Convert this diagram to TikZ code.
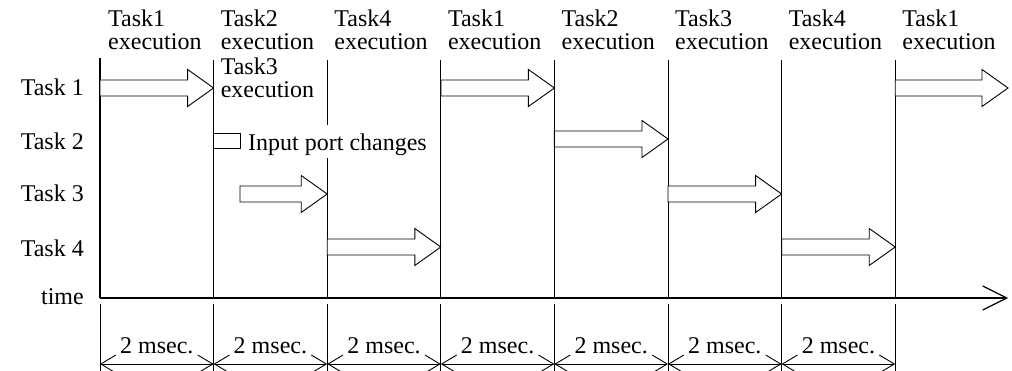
\documentclass[tikz,border=0pt]{standalone}
\usepackage{fontspec}
\setmainfont{Liberation Serif}
\usetikzlibrary{arrows.meta,calc}
\begin{document}
\begin{tikzpicture}[x=1pt,y=-1pt,
  thin line/.style={line width=0.9pt},
  axis line/.style={line width=2.6pt},
  lbl/.style={font=\fontsize{24}{23}\selectfont, inner sep=0pt},
  toplbl/.style={lbl, anchor=north west, align=left},
  rowlbl/.style={lbl, anchor=east},
  dimlbl/.style={lbl, anchor=base},
  dimarrow/.style={thin line, {Straight Barb[length=15pt,width=18pt]}-{Straight Barb[length=15pt,width=18pt]}},
  pics/barrow/.style={code={
    \draw[line width=0.9pt, fill=white] (0,-8) -- ({#1-26},-8) -- ({#1-26},-18.5) -- (#1,0)
      -- ({#1-26},18.5) -- ({#1-26},8) -- (0,8) -- cycle;}}
]
\useasboundingbox (0,0) rectangle (1012,371);
% column coordinates
\foreach \i in {0,...,7} {
  \coordinate (top\i) at ({100+113.6*\i},60);
  \coordinate (axis\i) at ({100+113.6*\i},298);
  \coordinate (low\i) at ({100+113.6*\i},304);
  \coordinate (bot\i) at ({100+113.6*\i},372);
  \coordinate (dim\i) at ({100+113.6*\i},364);
}
% vertical grid lines
\foreach \i in {1,...,7} { \draw[thin line] (top\i) -- (axis\i); }
\foreach \i in {0,...,7} { \draw[thin line] (low\i) -- (bot\i); }
% axes
\coordinate (yend) at (100,58);
\coordinate (tend) at (1008,298);
\draw[axis line] (yend) -- (axis0);
\draw[axis line, -{Straight Barb[length=24pt,width=24pt,line width=1.2pt]}] (axis0) -- (tend);
% dimension arrows
\foreach \i [evaluate=\i as \j using int(\i+1)] in {0,...,6} {
  \draw[dimarrow] (dim\i) -- (dim\j);
  \node[dimlbl] (d\i) at ($(dim\i)!0.5!(dim\j)+(0,-11)$) {2 msec.};
}
% block arrows
\pic at (100,88) {barrow=113.6};
\pic at (440.8,88) {barrow=113.6};
\pic at (895.2,88) {barrow=112.8};
\pic at (554.4,139) {barrow=113.6};
\pic at (240,194) {barrow=87.2};
\pic at (668,194) {barrow=113.6};
\pic at (327.2,247) {barrow=113.6};
\pic at (781.6,247) {barrow=113.6};
% input port box
\draw[thin line, fill=white] (213.6,133) rectangle (240,148);
\node[lbl, anchor=base west, fill=white, text height=24pt, text depth=5pt, inner xsep=2pt, inner ysep=2pt] (ipc) at (246,151) {Input port changes};
% row labels
\node[rowlbl] (r1) at (84,87) {Task 1};
\node[rowlbl] (r2) at (84,141) {Task 2};
\node[rowlbl] (r3) at (84,193.5) {Task 3};
\node[rowlbl] (r4) at (84,248.5) {Task 4};
\node[lbl, anchor=base east] (rt) at (84,305) {time};
% top labels
\node[toplbl] (h0) at (108,10) {Task1\\execution};
\node[toplbl] (h1) at (220.6,10) {Task2\\execution};
\node[toplbl] (h1b) at (220.6,58) {Task3\\execution};
\node[toplbl] (h2) at (334.2,10) {Task4\\execution};
\node[toplbl] (h3) at (447.8,10) {Task1\\execution};
\node[toplbl] (h4) at (561.4,10) {Task2\\execution};
\node[toplbl] (h5) at (675,10) {Task3\\execution};
\node[toplbl] (h6) at (788.6,10) {Task4\\execution};
\node[toplbl] (h7) at (902.2,10) {Task1\\execution};
\end{tikzpicture}
\end{document}
